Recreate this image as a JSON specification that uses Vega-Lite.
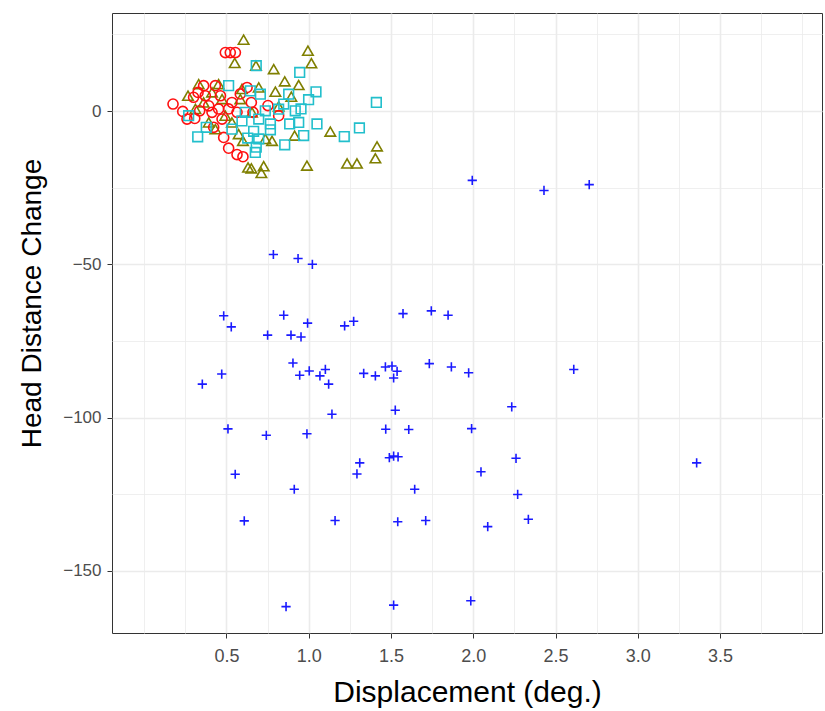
{
  "$schema": "https://vega.github.io/schema/vega-lite/v6.json",
  "width": 710,
  "height": 620,
  "autosize": "none",
  "padding": {"left": 112, "top": 13, "right": 3, "bottom": 78},
  "background": "white",
  "config": {
    "view": {"stroke": "#333333", "strokeWidth": 1},
    "font": "Liberation Sans"
  },
  "data": {
    "values": [
      {"g":"t","x":0.604,"y":23.3},{"g":"t","x":0.995,"y":19.7},{"g":"t","x":0.550,"y":15.7},{"g":"t","x":0.679,"y":14.8},
      {"g":"t","x":1.016,"y":15.6},{"g":"t","x":0.787,"y":13.7},{"g":"t","x":0.854,"y":9.7},{"g":"t","x":0.939,"y":8.5},
      {"g":"t","x":0.797,"y":6.3},{"g":"t","x":0.894,"y":4.7},{"g":"t","x":0.817,"y":1.5},{"g":"t","x":1.131,"y":-6.7},
      {"g":"t","x":0.914,"y":-8.0},{"g":"t","x":0.600,"y":-9.7},{"g":"t","x":0.777,"y":-9.7},{"g":"t","x":1.415,"y":-11.5},
      {"g":"t","x":1.405,"y":-15.4},{"g":"t","x":1.233,"y":-17.1},{"g":"t","x":1.293,"y":-17.1},{"g":"t","x":0.989,"y":-17.8},
      {"g":"t","x":0.631,"y":-18.4},{"g":"t","x":0.651,"y":-18.7},{"g":"t","x":0.726,"y":-18.0},{"g":"t","x":0.712,"y":-20.2},
      {"g":"t","x":0.331,"y":8.8},{"g":"t","x":0.266,"y":5.0},{"g":"t","x":0.452,"y":8.8},{"g":"t","x":0.412,"y":6.1},
      {"g":"t","x":0.311,"y":0.7},{"g":"t","x":0.473,"y":3.9},{"g":"t","x":0.392,"y":-3.7},{"g":"t","x":0.493,"y":-1.5},
      {"g":"t","x":0.533,"y":-3.7},{"g":"t","x":0.584,"y":3.9},{"g":"t","x":0.696,"y":7.7},{"g":"t","x":0.594,"y":7.2},
      {"g":"t","x":0.361,"y":2.8},{"g":"t","x":0.432,"y":-5.9},{"g":"t","x":0.574,"y":-7.5},{"g":"t","x":0.655,"y":-0.4},
      {"g":"t","x":0.736,"y":-9.1},
      {"g":"c","x":0.493,"y":19.1},{"g":"c","x":0.523,"y":19.1},{"g":"c","x":0.554,"y":19.1},{"g":"c","x":0.175,"y":2.3},
      {"g":"c","x":0.234,"y":-0.1},{"g":"c","x":0.260,"y":-2.6},{"g":"c","x":0.307,"y":-2.4},{"g":"c","x":0.300,"y":4.5},
      {"g":"c","x":0.361,"y":8.3},{"g":"c","x":0.432,"y":8.3},{"g":"c","x":0.371,"y":5.0},{"g":"c","x":0.412,"y":-0.4},
      {"g":"c","x":0.452,"y":0.7},{"g":"c","x":0.513,"y":0.7},{"g":"c","x":0.473,"y":-2.6},{"g":"c","x":0.422,"y":-5.3},
      {"g":"c","x":0.483,"y":-8.6},{"g":"c","x":0.513,"y":-12.1},{"g":"c","x":0.564,"y":-14.2},{"g":"c","x":0.600,"y":-14.9},
      {"g":"c","x":0.584,"y":5.6},{"g":"c","x":0.625,"y":7.7},{"g":"c","x":0.651,"y":2.8},{"g":"c","x":0.661,"y":-0.4},
      {"g":"c","x":0.752,"y":1.8},{"g":"c","x":0.817,"y":-1.5},{"g":"c","x":0.564,"y":-0.4},{"g":"c","x":0.533,"y":2.8},
      {"g":"c","x":0.392,"y":1.7},{"g":"c","x":0.327,"y":6.1},{"g":"c","x":0.337,"y":0.1},{"g":"c","x":0.463,"y":5.0},
      {"g":"s","x":0.681,"y":14.8},{"g":"s","x":0.945,"y":12.6},{"g":"s","x":1.411,"y":2.8},{"g":"s","x":1.044,"y":6.3},
      {"g":"s","x":0.999,"y":3.7},{"g":"s","x":0.953,"y":0.7},{"g":"s","x":0.918,"y":0.1},{"g":"s","x":1.050,"y":-4.2},
      {"g":"s","x":0.939,"y":-3.7},{"g":"s","x":0.884,"y":-4.2},{"g":"s","x":1.308,"y":-5.5},{"g":"s","x":1.216,"y":-8.3},
      {"g":"s","x":0.969,"y":-8.0},{"g":"s","x":0.854,"y":-11.0},{"g":"s","x":0.665,"y":-6.6},{"g":"s","x":0.681,"y":-11.8},
      {"g":"s","x":0.675,"y":-13.5},{"g":"s","x":0.767,"y":-4.2},{"g":"s","x":0.767,"y":-6.1},{"g":"s","x":0.325,"y":-8.4},
      {"g":"s","x":0.377,"y":-5.3},{"g":"s","x":0.513,"y":8.3},{"g":"s","x":0.645,"y":6.6},{"g":"s","x":0.706,"y":5.5},
      {"g":"s","x":0.878,"y":5.5},{"g":"s","x":0.848,"y":2.3},{"g":"s","x":0.736,"y":0.1},{"g":"s","x":0.696,"y":-2.6},
      {"g":"s","x":0.594,"y":-3.2},{"g":"s","x":0.533,"y":-5.9},{"g":"s","x":0.270,"y":-1.5},{"g":"s","x":0.817,"y":0.6},
      {"g":"s","x":0.629,"y":-8.8},{"g":"s","x":0.696,"y":-9.1},{"g":"s","x":0.614,"y":-0.4},
      {"g":"p","x":0.785,"y":-46.8},{"g":"p","x":0.935,"y":-48.1},{"g":"p","x":1.022,"y":-50.0},{"g":"p","x":0.483,"y":-66.8},
      {"g":"p","x":0.529,"y":-70.4},{"g":"p","x":0.848,"y":-66.6},{"g":"p","x":0.993,"y":-69.2},{"g":"p","x":0.750,"y":-73.1},
      {"g":"p","x":0.892,"y":-73.1},{"g":"p","x":0.953,"y":-73.7},{"g":"p","x":1.218,"y":-70.1},{"g":"p","x":1.273,"y":-68.6},
      {"g":"p","x":1.573,"y":-66.1},{"g":"p","x":1.745,"y":-65.2},{"g":"p","x":1.847,"y":-66.6},{"g":"p","x":0.353,"y":-89.1},
      {"g":"p","x":0.471,"y":-85.8},{"g":"p","x":0.904,"y":-82.2},{"g":"p","x":0.945,"y":-86.2},{"g":"p","x":1.003,"y":-84.8},
      {"g":"p","x":1.068,"y":-86.4},{"g":"p","x":1.101,"y":-84.3},{"g":"p","x":1.121,"y":-89.1},{"g":"p","x":1.334,"y":-85.6},
      {"g":"p","x":1.405,"y":-86.4},{"g":"p","x":1.466,"y":-83.5},{"g":"p","x":1.506,"y":-83.2},{"g":"p","x":1.537,"y":-84.9},
      {"g":"p","x":1.516,"y":-87.1},{"g":"p","x":1.733,"y":-82.4},{"g":"p","x":1.867,"y":-83.5},{"g":"p","x":1.972,"y":-85.4},
      {"g":"p","x":1.141,"y":-98.9},{"g":"p","x":1.526,"y":-97.6},{"g":"p","x":0.509,"y":-103.7},{"g":"p","x":0.742,"y":-105.8},
      {"g":"p","x":0.989,"y":-105.3},{"g":"p","x":1.468,"y":-103.8},{"g":"p","x":1.608,"y":-103.9},{"g":"p","x":1.990,"y":-103.6},
      {"g":"p","x":1.310,"y":-114.8},{"g":"p","x":1.293,"y":-118.4},{"g":"p","x":1.490,"y":-113.1},{"g":"p","x":1.516,"y":-112.6},
      {"g":"p","x":1.543,"y":-112.8},{"g":"p","x":0.553,"y":-118.5},{"g":"p","x":0.912,"y":-123.4},{"g":"p","x":1.644,"y":-123.4},
      {"g":"p","x":0.608,"y":-133.7},{"g":"p","x":1.160,"y":-133.6},{"g":"p","x":1.541,"y":-134.0},{"g":"p","x":1.711,"y":-133.6},
      {"g":"p","x":0.862,"y":-161.7},{"g":"p","x":1.516,"y":-161.2},{"g":"p","x":1.994,"y":-22.6},{"g":"p","x":2.430,"y":-25.9},
      {"g":"p","x":2.705,"y":-24.0},{"g":"p","x":2.611,"y":-84.3},{"g":"p","x":2.234,"y":-96.5},{"g":"p","x":2.260,"y":-113.3},
      {"g":"p","x":2.047,"y":-117.7},{"g":"p","x":3.358,"y":-114.8},{"g":"p","x":2.270,"y":-125.1},{"g":"p","x":2.088,"y":-135.6},
      {"g":"p","x":2.335,"y":-133.2},{"g":"p","x":1.985,"y":-159.8}
    ]
  },
  "mark": {"type": "point", "filled": false, "strokeWidth": 1.6, "opacity": 1},
  "encoding": {
    "x": {
      "field": "x", "type": "quantitative",
      "scale": {"domain": [-0.196, 4.12], "nice": false, "zero": false},
      "axis": {
        "title": "Displacement (deg.)",
        "values": [0, 0.25, 0.5, 0.75, 1, 1.25, 1.5, 1.75, 2, 2.25, 2.5, 2.75, 3, 3.25, 3.5, 3.75, 4],
        "labelExpr": "(datum.value >= 0.5 && datum.value <= 3.5 && datum.value % 0.5 === 0) ? format(datum.value, '.1f') : ''",
        "domain": false,
        "grid": true,
        "gridColor": "#EBEBEB",
        "gridWidth": {"condition": {"test": "datum.value >= 0.5 && datum.value <= 3.5 && datum.value % 0.5 === 0", "value": 1.6}, "value": 0.8},
        "tickOpacity": {"condition": {"test": "datum.value >= 0.5 && datum.value <= 3.5 && datum.value % 0.5 === 0", "value": 1}, "value": 0},
        "tickColor": "#333333",
        "tickSize": 5,
        "tickWidth": 1,
        "labelColor": "#4D4D4D",
        "labelFontSize": 18,
        "labelPadding": 9,
        "labelFont": "Liberation Sans",
        "titleFont": "Liberation Sans",
        "titleFontSize": 30,
        "titleFontWeight": "normal",
        "titleColor": "#000000",
        "titlePadding": 12
      }
    },
    "y": {
      "field": "y", "type": "quantitative",
      "scale": {"domain": [-170.3, 32], "nice": false, "zero": false},
      "axis": {
        "title": "Head Distance Change",
        "values": [25, 0, -25, -50, -75, -100, -125, -150],
        "labelExpr": "(datum.value % 50 === 0) ? format(datum.value, 'd') : ''",
        "domain": false,
        "grid": true,
        "gridColor": "#EBEBEB",
        "gridWidth": {"condition": {"test": "datum.value % 50 === 0", "value": 1.6}, "value": 0.8},
        "tickOpacity": {"condition": {"test": "datum.value % 50 === 0", "value": 1}, "value": 0},
        "tickColor": "#333333",
        "tickSize": 5,
        "tickWidth": 1,
        "labelColor": "#4D4D4D",
        "labelFontSize": 17,
        "labelPadding": 6,
        "labelFont": "Liberation Sans",
        "titleFont": "Liberation Sans",
        "titleFontSize": 28,
        "titleFontWeight": "normal",
        "titleColor": "#000000",
        "titlePadding": 16,
        "titleY": 290
      }
    },
    "shape": {
      "field": "g", "type": "nominal", "legend": null,
      "scale": {"domain": ["t", "c", "s", "p"], "range": ["triangle-up", "circle", "square", "M-1,0H1M0,-1V1"]}
    },
    "color": {
      "field": "g", "type": "nominal", "legend": null,
      "scale": {"domain": ["t", "c", "s", "p"], "range": ["#7F7F00", "#FF1010", "#22BFCC", "#1A1AFF"]}
    },
    "size": {
      "field": "g", "type": "nominal", "legend": null,
      "scale": {"domain": ["t", "c", "s", "p"], "range": [110, 85, 64, 170]}
    }
  }
}
